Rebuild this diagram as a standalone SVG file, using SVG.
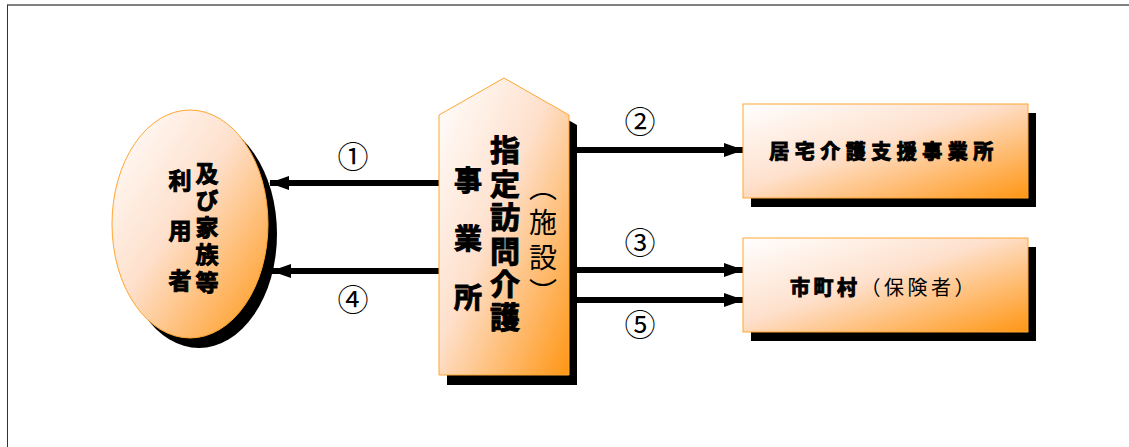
<svg xmlns="http://www.w3.org/2000/svg" width="1129" height="447" viewBox="0 0 1129 447">
<style>
.jp{font-family:"Noto Sans CJK JP","Noto Sans",sans-serif;fill:#000}
.b{font-weight:bold;stroke:#000;stroke-width:1}
.v{writing-mode:vertical-rl}
.shape{stroke:#FFA630;stroke-width:1}
.shadow{fill:#000}
.conn{stroke:#000;stroke-width:6;fill:none}
.num{font-family:"Noto Sans CJK JP","DejaVu Sans",sans-serif;font-size:31px;fill:#000;text-anchor:middle}
</style>
<defs>
<linearGradient id="g" x1="0" y1="0" x2="1" y2="1">
<stop offset="0" stop-color="#FFFFFF"/>
<stop offset="0.45" stop-color="#FEE0CC"/>
<stop offset="1" stop-color="#FF9614"/>
</linearGradient>
<marker id="ah" markerWidth="20" markerHeight="16" refX="19" refY="8" orient="auto" markerUnits="userSpaceOnUse">
<path d="M0,1 L20,8 L0,15 Z" fill="#000"/>
</marker>
</defs>
<rect width="1129" height="447" fill="#fff"/>
<line x1="7" y1="5" x2="1129" y2="5" stroke="#808080" stroke-width="2"/>
<line x1="7.5" y1="5" x2="7.5" y2="447" stroke="#333" stroke-width="1"/>

<g id="connectors">
<line class="conn" x1="440" y1="183" x2="270" y2="183" marker-end="url(#ah)"/>
<line class="conn" x1="440" y1="271" x2="272" y2="271" marker-end="url(#ah)"/>
<line class="conn" x1="577" y1="150" x2="743" y2="150" marker-end="url(#ah)"/>
<line class="conn" x1="577" y1="270" x2="743" y2="270" marker-end="url(#ah)"/>
<line class="conn" x1="577" y1="300" x2="743" y2="300" marker-end="url(#ah)"/>
<text class="num" x="353" y="168">①</text>
<text class="num" x="353" y="311">④</text>
<text class="num" x="640" y="133">②</text>
<text class="num" x="640" y="254">③</text>
<text class="num" x="640" y="336">⑤</text>
</g>

<g id="user">
<ellipse class="shadow" cx="199" cy="234" rx="78" ry="114"/>
<ellipse class="shape" cx="190" cy="224" rx="78" ry="114" fill="url(#g)"/>
<text class="jp b v" x="180" y="168.5" font-size="23" letter-spacing="27">利用者</text>
<text class="jp b v" x="207" y="161.5" font-size="23" letter-spacing="4.25">及び家族等</text>
</g>

<g id="office">
<path class="shadow" d="M447,125 L512,88 L577,125 L577,385 L447,385 Z"/>
<path class="shape" d="M439,115 L504,78 L569,115 L569,375 L439,375 Z" fill="url(#g)"/>
<text class="jp b v" x="468" y="166" font-size="28" letter-spacing="30.5">事業所</text>
<text class="jp b v" x="505" y="135" font-size="30" letter-spacing="3.4">指定訪問介護</text>
<text class="jp v" x="543" y="173" font-size="28" letter-spacing="7">（施設）</text>
</g>

<g id="care">
<rect class="shadow" x="751" y="113" width="285" height="94"/>
<rect class="shape" x="743" y="104" width="285" height="94" fill="url(#g)"/>
<text class="jp b" x="884" y="159" font-size="20" letter-spacing="5.5" text-anchor="middle">居宅介護支援事業所</text>
</g>

<g id="city">
<rect class="shadow" x="751" y="247" width="285" height="94"/>
<rect class="shape" x="743" y="238" width="285" height="94" fill="url(#g)"/>
<text class="jp" x="884" y="295" font-size="20" letter-spacing="3.5" text-anchor="middle"><tspan font-weight="bold" stroke="#000" stroke-width="1">市町村</tspan>（保険者）</text>
</g>
</svg>
